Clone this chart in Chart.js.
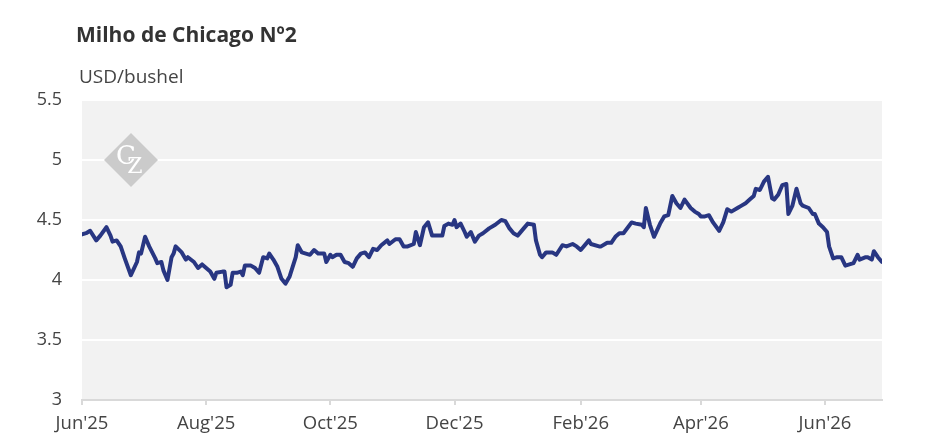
<!DOCTYPE html>
<html>
<head>
<meta charset="utf-8">
<script src="https://cdn.jsdelivr.net/npm/chart.js@4.4.1/dist/chart.umd.min.js"></script>
<style>
  html, body { margin: 0; padding: 0; background: #fff; }
  #wrap { position: relative; width: 945px; height: 443px; font-family: 'Open Sans', sans-serif; }
  #titulo { position: absolute; left: 76px; top: 24px; font-size: 21px; line-height: 21px; font-weight: 700; color: #333; }
  #unidade { position: absolute; left: 79px; top: 67px; font-size: 19px; line-height: 19px; color: #444; }
  canvas { position: absolute; left: 0; top: 0; }
</style>
</head>
<body>
<div id="wrap">
  <canvas id="grafico" width="945" height="443"></canvas>
  <div id="titulo">Milho de Chicago Nº2</div>
  <div id="unidade">USD/bushel</div>
</div>
<script>
// Datas das cotações
const dates = [
  '2025-06-01','2025-06-03','2025-06-05','2025-06-08','2025-06-10','2025-06-13','2025-06-15','2025-06-16','2025-06-18','2025-06-20',
  '2025-06-22','2025-06-25','2025-06-28','2025-06-29','2025-06-30','2025-07-02','2025-07-04','2025-07-07','2025-07-08','2025-07-10',
  '2025-07-11','2025-07-13','2025-07-15','2025-07-16','2025-07-17','2025-07-20','2025-07-22','2025-07-23','2025-07-26','2025-07-28',
  '2025-07-30','2025-08-01','2025-08-03','2025-08-05','2025-08-06','2025-08-09','2025-08-10','2025-08-11','2025-08-13','2025-08-14',
  '2025-08-16','2025-08-18','2025-08-19','2025-08-20','2025-08-23','2025-08-25','2025-08-27','2025-08-29','2025-08-31','2025-09-01',
  '2025-09-03','2025-09-05','2025-09-07','2025-09-09','2025-09-11','2025-09-14','2025-09-15','2025-09-17','2025-09-19','2025-09-21',
  '2025-09-23','2025-09-25','2025-09-28','2025-09-29','2025-10-01','2025-10-02','2025-10-04','2025-10-06','2025-10-08','2025-10-10',
  '2025-10-12','2025-10-14','2025-10-16','2025-10-18','2025-10-20','2025-10-22','2025-10-24','2025-10-26','2025-10-29','2025-10-30',
  '2025-11-02','2025-11-04','2025-11-06','2025-11-08','2025-11-11','2025-11-12','2025-11-14','2025-11-16','2025-11-18','2025-11-20',
  '2025-11-22','2025-11-25','2025-11-26','2025-11-28','2025-11-30','2025-12-01','2025-12-02','2025-12-04','2025-12-06','2025-12-07',
  '2025-12-09','2025-12-11','2025-12-13','2025-12-15','2025-12-18','2025-12-21','2025-12-24','2025-12-26','2025-12-28','2025-12-30',
  '2026-01-01','2026-01-04','2026-01-06','2026-01-09','2026-01-10','2026-01-12','2026-01-13','2026-01-15','2026-01-18','2026-01-20',
  '2026-01-23','2026-01-25','2026-01-28','2026-01-30','2026-02-01','2026-02-05','2026-02-06','2026-02-10','2026-02-11','2026-02-14',
  '2026-02-16','2026-02-18','2026-02-20','2026-02-22','2026-02-26','2026-02-28','2026-03-03','2026-03-04','2026-03-05','2026-03-07',
  '2026-03-09','2026-03-12','2026-03-14','2026-03-16','2026-03-18','2026-03-20','2026-03-22','2026-03-24','2026-03-27','2026-03-29',
  '2026-03-31','2026-04-01','2026-04-03','2026-04-05','2026-04-07','2026-04-10','2026-04-12','2026-04-14','2026-04-16','2026-04-19',
  '2026-04-21','2026-04-23','2026-04-25','2026-04-27','2026-04-28','2026-04-30','2026-05-02','2026-05-04','2026-05-06','2026-05-07',
  '2026-05-09','2026-05-11','2026-05-13','2026-05-14','2026-05-16','2026-05-18','2026-05-20','2026-05-21','2026-05-24','2026-05-26',
  '2026-05-27','2026-05-29','2026-05-31','2026-06-02','2026-06-03','2026-06-05','2026-06-07','2026-06-09','2026-06-11','2026-06-13',
  '2026-06-15','2026-06-17','2026-06-18','2026-06-21','2026-06-22','2026-06-24','2026-06-25','2026-06-27','2026-06-29'
];

// Preço em USD/bushel
const prices = [
  4.38, 4.39, 4.41, 4.33, 4.37, 4.44, 4.37, 4.32, 4.33, 4.28,
  4.18, 4.04, 4.15, 4.23, 4.22, 4.36, 4.28, 4.18, 4.14, 4.15,
  4.08, 4.00, 4.19, 4.22, 4.28, 4.23, 4.17, 4.19, 4.15, 4.10,
  4.13, 4.10, 4.07, 4.01, 4.06, 4.07, 4.07, 3.94, 3.96, 4.06,
  4.06, 4.07, 4.04, 4.12, 4.12, 4.10, 4.06, 4.19, 4.18, 4.22,
  4.17, 4.11, 4.01, 3.97, 4.03, 4.19, 4.29, 4.23, 4.22, 4.21,
  4.25, 4.22, 4.22, 4.15, 4.21, 4.19, 4.21, 4.21, 4.15, 4.14,
  4.11, 4.18, 4.22, 4.23, 4.19, 4.26, 4.25, 4.29, 4.33, 4.30,
  4.34, 4.34, 4.28, 4.28, 4.30, 4.40, 4.29, 4.44, 4.48, 4.37,
  4.37, 4.37, 4.45, 4.47, 4.46, 4.50, 4.44, 4.47, 4.40, 4.36,
  4.40, 4.32, 4.37, 4.39, 4.43, 4.46, 4.50, 4.49, 4.43, 4.39,
  4.37, 4.43, 4.47, 4.46, 4.33, 4.21, 4.19, 4.23, 4.23, 4.21,
  4.29, 4.28, 4.30, 4.28, 4.25, 4.33, 4.30, 4.28, 4.28, 4.31,
  4.31, 4.36, 4.39, 4.39, 4.48, 4.47, 4.46, 4.44, 4.60, 4.46,
  4.36, 4.47, 4.53, 4.54, 4.70, 4.64, 4.60, 4.67, 4.60, 4.57,
  4.55, 4.53, 4.53, 4.54, 4.48, 4.41, 4.48, 4.59, 4.57, 4.60,
  4.62, 4.64, 4.67, 4.70, 4.76, 4.75, 4.82, 4.86, 4.68, 4.67,
  4.71, 4.79, 4.80, 4.55, 4.62, 4.76, 4.64, 4.62, 4.60, 4.55,
  4.55, 4.47, 4.44, 4.40, 4.28, 4.18, 4.19, 4.19, 4.12, 4.13,
  4.14, 4.21, 4.17, 4.19, 4.19, 4.17, 4.24, 4.19, 4.15
];

const tickDates = ['2025-06-01','2025-08-01','2025-10-01','2025-12-01','2026-02-01','2026-04-01','2026-06-01'];
const tickLabels = ["Jun'25","Aug'25","Oct'25","Dec'25","Feb'26","Apr'26","Jun'26"];
const yTicks = [3, 3.5, 4, 4.5, 5, 5.5];

// dias desde a primeira data
function dia(s) {
    const [a, m, d] = s.split('-').map(Number);
    const [a0, m0, d0] = dates[0].split('-').map(Number);
    return (Date.UTC(a, m - 1, d) - Date.UTC(a0, m0 - 1, d0)) / 86400000;
}

const pontos = dates.map((d, i) => ({ x: dia(d), y: prices[i] }));

// fundo cinza da área do gráfico e marca d'água
const fundo = {
    id: 'fundo',
    beforeDraw(chart) {
        const { ctx, chartArea: a } = chart;
        ctx.save();
        ctx.fillStyle = '#f2f2f2';
        ctx.fillRect(a.left, a.top, a.right - a.left, a.bottom - a.top);
        ctx.restore();
    },
    beforeDatasetsDraw(chart) {
        const { ctx, chartArea: a } = chart;
        const cx = a.left + 49, cy = a.top + 60, r = 27;
        ctx.save();
        ctx.fillStyle = '#cbcbcb';
        ctx.beginPath();
        ctx.moveTo(cx, cy - r);
        ctx.lineTo(cx + r, cy);
        ctx.lineTo(cx, cy + r);
        ctx.lineTo(cx - r, cy);
        ctx.closePath();
        ctx.fill();
        ctx.fillStyle = '#fff';
        ctx.font = '26px "DejaVu Serif", serif';
        ctx.textAlign = 'center';
        ctx.textBaseline = 'middle';
        ctx.fillText('C', cx - 5, cy - 3);
        ctx.font = '22px "DejaVu Serif", serif';
        ctx.fillText('Z', cx + 4, cy + 7);
        ctx.restore();
    }
};

new Chart(document.getElementById('grafico'), {
    type: 'line',
    data: {
        datasets: [{
            data: pontos,
            borderColor: '#283682',
            borderWidth: 4,
            pointRadius: 0,
            tension: 0,
            borderJoinStyle: 'round',
            borderCapStyle: 'round'
        }]
    },
    options: {
        responsive: false,
        animation: false,
        layout: { padding: { top: 100, right: 63, left: 0, bottom: 0 } },
        plugins: {
            legend: { display: false },
            tooltip: { enabled: false }
        },
        scales: {
            x: {
                type: 'linear',
                min: dia(dates[0]),
                max: dia(dates[dates.length - 1]),
                afterBuildTicks: s => { s.ticks = tickDates.map(d => ({ value: dia(d) })); },
                afterFit: s => { s.height = 43; },
                grid: { drawOnChartArea: false, drawTicks: true, tickLength: 5, color: '#d9d9d9', lineWidth: 2 },
                border: { display: true, color: '#d9d9d9', width: 2 },
                ticks: {
                    autoSkip: false,
                    maxRotation: 0,
                    padding: 8,
                    color: '#444',
                    font: { family: "'Open Sans', sans-serif", size: 18.5 },
                    callback: (v, i) => tickLabels[i]
                }
            },
            y: {
                min: yTicks[0],
                max: yTicks[yTicks.length - 1],
                afterBuildTicks: s => { s.ticks = yTicks.map(v => ({ value: v })); },
                afterFit: s => { s.width = 82; },
                grid: { color: '#ffffff', lineWidth: 2, drawTicks: false },
                border: { display: false },
                ticks: {
                    padding: 20,
                    color: '#444',
                    font: { family: "'Open Sans', sans-serif", size: 18 },
                    callback: v => String(v)
                }
            }
        }
    },
    plugins: [fundo]
});
</script>
</body>
</html>
